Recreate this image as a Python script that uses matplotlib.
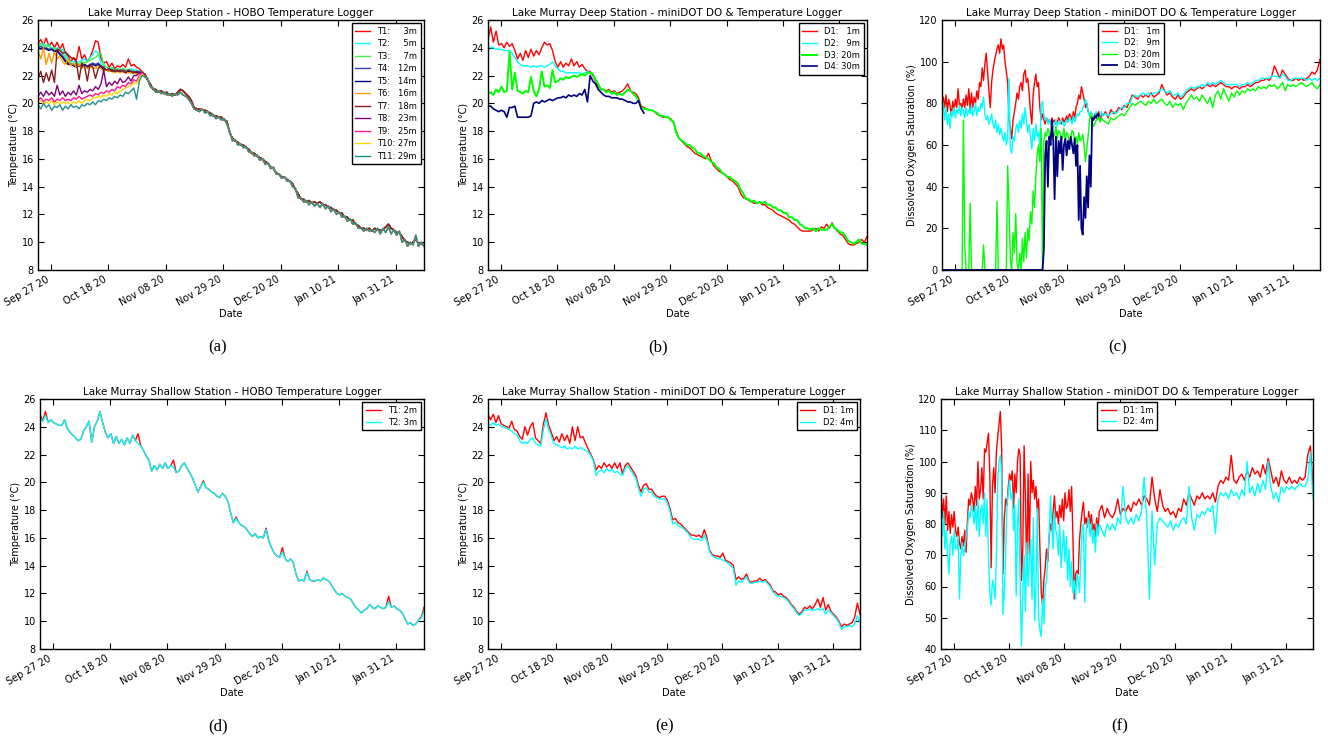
import numpy as np
import matplotlib
matplotlib.use('Agg')
import matplotlib.pyplot as plt
import matplotlib.dates as mdates

plt.rcParams['font.family'] = ['DejaVu Sans']

# ---------------- time grids ----------------
START = np.datetime64('2020-09-22T06:00')
day_grid = START + np.arange(142) * np.timedelta64(1, 'D')          # d0..d141 daily
half_grid = START + np.arange(120) * np.timedelta64(12, 'h')        # d0..d59.5 half-daily
late_grid = START + np.arange(60, 142) * np.timedelta64(1, 'D')     # d60..d141 daily
do_grid = np.concatenate([half_grid, late_grid])

tick_dates = np.array(['2020-09-27', '2020-10-18', '2020-11-08', '2020-11-29',
                       '2020-12-20', '2021-01-10', '2021-01-31'], dtype='datetime64[D]')

# ---------------- (a) Deep station HOBO: stratified part d0..d38 ----------------
hobo_labels = ['T1: \u2007\u20073m', 'T2: \u2007\u20075m', 'T3: \u2007\u20077m',
               'T4: \u200712m', 'T5: \u200714m', 'T6: \u200716m', 'T7: \u200718m',
               'T8: \u200723m', 'T9: \u200725m', 'T10: 27m', 'T11: 29m']
T1_strat = [24.3, 24.6, 24.2, 24.7, 24.1, 24.4, 24.0, 24.4, 23.9, 24.3,
            23.6, 23.4, 23.0, 23.3, 23.1, 24.1, 23.2, 23.5, 23.0, 23.3,
            23.8, 24.5, 24.4, 23.2, 22.9, 23.0, 22.6, 22.9, 22.5, 22.7,
            22.6, 22.8, 22.6, 23.2, 22.7, 22.8, 22.6, 22.5, 22.3]
T2_strat = [24.2, 24.1, 24.3, 24.1, 24.2, 24.0, 23.9, 24.0, 23.8, 23.9,
            23.5, 23.2, 23.0, 23.0, 22.9, 23.0, 23.1, 23.2, 23.0, 23.3,
            23.5, 23.8, 23.6, 22.9, 22.7, 22.6, 22.5, 22.6, 22.4, 22.5,
            22.4, 22.5, 22.4, 22.4, 22.5, 22.4, 22.4, 22.3, 22.2]
T3_strat = [24.2, 24.3, 24.0, 24.2, 24.1, 23.9, 24.0, 23.8, 23.9, 23.6,
            23.3, 23.0, 22.9, 22.8, 22.9, 22.8, 23.0, 22.9, 23.0, 23.1,
            23.2, 23.3, 23.5, 23.6, 22.8, 22.6, 22.5, 22.5, 22.4, 22.5,
            22.4, 22.5, 22.4, 22.4, 22.4, 22.3, 22.3, 22.3, 22.2]
T4_strat = [24.0, 24.1, 23.9, 24.0, 23.9, 23.9, 23.8, 23.8, 23.6, 23.4,
            23.1, 22.9, 22.8, 22.8, 22.7, 22.8, 22.7, 22.8, 22.7, 22.8,
            22.9, 22.8, 22.9, 22.7, 22.5, 22.4, 22.4, 22.4, 22.3, 22.4,
            22.3, 22.4, 22.3, 22.3, 22.3, 22.3, 22.2, 22.3, 22.2]
T5_strat = [24.0, 23.9, 24.0, 23.9, 23.8, 23.9, 23.7, 23.8, 23.5, 23.3,
            23.0, 22.8, 22.8, 22.7, 22.6, 22.7, 22.6, 22.8, 22.6, 22.7,
            22.8, 22.7, 22.8, 22.6, 22.4, 22.4, 22.3, 22.4, 22.3, 22.3,
            22.3, 22.3, 22.2, 22.3, 22.2, 22.2, 22.2, 22.2, 22.2]
T6_strat = [23.8, 23.2, 24.0, 22.8, 23.6, 22.9, 23.7, 23.2, 23.4, 23.0,
            22.8, 23.2, 22.7, 22.9, 22.6, 22.8, 22.5, 22.7, 22.5, 22.6,
            22.6, 22.5, 22.7, 22.5, 22.3, 22.4, 22.3, 22.3, 22.2, 22.3,
            22.2, 22.3, 22.2, 22.2, 22.2, 22.2, 22.1, 22.2, 22.2]
T7_strat = [21.8, 22.3, 21.5, 22.2, 21.6, 22.4, 21.5, 23.9, 23.8, 23.6,
            23.7, 23.5, 23.3, 23.2, 23.0, 21.7, 22.9, 22.7, 21.6, 22.8,
            22.6, 21.8, 22.5, 22.7, 22.6, 22.4, 22.5, 22.3, 22.4, 22.3,
            22.4, 22.3, 22.2, 22.4, 22.3, 22.2, 22.3, 22.2, 22.2]
T8_strat = [20.5, 20.8, 20.5, 20.9, 20.6, 20.8, 20.5, 21.3, 20.6, 20.9,
            20.5, 20.8, 20.6, 20.9, 20.6, 21.3, 20.7, 20.9, 20.8, 21.0,
            20.9, 21.2, 21.0, 21.4, 22.4, 21.2, 21.5, 21.3, 21.6, 21.4,
            21.8, 21.5, 21.6, 21.9, 21.6, 22.0, 22.0, 22.2, 22.2]
T9_strat = [20.2, 20.4, 20.1, 20.3, 20.2, 20.4, 20.1, 20.3, 20.2, 20.4,
            20.2, 20.3, 20.2, 20.4, 20.3, 20.5, 20.3, 20.4, 20.5, 20.6,
            20.5, 20.7, 20.6, 20.8, 20.7, 20.9, 20.8, 21.0, 20.9, 21.2,
            21.1, 21.3, 21.2, 21.5, 21.4, 21.7, 21.6, 22.0, 22.2]
T10_strat = [20.0, 20.2, 19.9, 20.1, 20.0, 20.2, 19.9, 20.1, 20.0, 20.1,
             20.0, 20.1, 19.9, 20.1, 20.0, 20.2, 20.0, 20.2, 20.3, 20.2,
             20.4, 20.4, 20.5, 20.4, 20.6, 20.5, 20.7, 20.6, 20.8, 20.7,
             20.9, 21.0, 21.1, 21.2, 21.3, 21.5, 21.4, 21.8, 22.1]
T11_strat = [19.9, 19.6, 20.0, 19.7, 19.9, 19.5, 19.8, 19.7, 19.9, 19.5,
             19.8, 19.6, 19.9, 19.7, 19.8, 19.6, 19.9, 19.8, 20.0, 19.9,
             20.1, 19.9, 20.2, 20.1, 20.3, 20.2, 20.4, 20.3, 20.5, 20.4,
             20.6, 20.5, 20.8, 20.7, 20.9, 21.1, 20.3, 21.6, 22.0]
# mixed water column at deep station, d39..d141 (upper sensors)
deep_mixed = [22.1, 21.7, 21.4, 21.0, 21.0, 20.8, 20.9, 20.7, 20.8, 20.6,
              20.7, 20.6, 20.8, 21.0, 20.9, 20.7, 20.5, 20.2, 19.7, 19.6,
              19.6, 19.5, 19.5, 19.4, 19.3, 19.1, 19.1, 19.0, 19.0, 18.8,
              18.7, 17.9, 17.5, 17.3, 17.2, 17.0, 17.0, 16.8, 16.7, 16.4,
              16.4, 16.2, 16.1, 16.0, 15.8, 15.7, 15.4, 15.3, 15.0, 14.9,
              14.7, 14.7, 14.5, 14.4, 14.2, 13.8, 13.5, 13.1, 13.1, 12.9,
              13.0, 12.8, 12.9, 12.8, 12.9, 12.7, 12.7, 12.5, 12.5, 12.3,
              12.3, 12.1, 12.1, 11.8, 11.8, 11.6, 11.6, 11.3, 11.2, 11.0,
              11.0, 10.9, 11.0, 10.8, 11.0, 10.9, 10.9, 10.9, 11.1, 11.3,
              11.0, 10.9, 10.7, 10.7, 10.4, 10.1, 10.0, 9.9, 10.0, 10.2,
              9.9, 9.9, 9.8]
# mixed water column at deep station, d39..d141 (lower sensors)
deep_mixed_low = [21.9, 21.8, 21.2, 21.1, 20.8, 20.9, 20.7, 20.8, 20.6, 20.7,
                  20.5, 20.7, 20.6, 20.8, 20.6, 20.5, 20.3, 20.0, 19.6, 19.5,
                  19.4, 19.6, 19.3, 19.4, 19.1, 19.2, 18.9, 19.0, 18.8, 18.9,
                  18.5, 18.0, 17.3, 17.4, 17.0, 17.1, 16.8, 16.9, 16.5, 16.5,
                  16.2, 16.3, 15.9, 16.0, 15.6, 15.7, 15.3, 15.4, 14.9, 14.9,
                  14.6, 14.7, 14.4, 14.4, 14.0, 13.9, 13.2, 13.2, 12.9, 13.0,
                  12.7, 12.9, 12.6, 12.8, 12.5, 12.8, 12.4, 12.6, 12.2, 12.4,
                  12.0, 12.2, 11.8, 11.9, 11.5, 11.7, 11.3, 11.4, 11.0, 11.0,
                  10.8, 11.0, 10.8, 10.9, 10.7, 11.0, 10.6, 11.0, 10.7, 11.1,
                  10.6, 10.9, 10.5, 10.8, 10.0, 10.2, 9.7, 10.0, 9.8, 10.5,
                  9.7, 10.0, 9.7]
hobo_strat = [T1_strat, T2_strat, T3_strat, T4_strat, T5_strat, T6_strat,
              T7_strat, T8_strat, T9_strat, T10_strat, T11_strat]
hobo_mixed = [deep_mixed] * 7 + [deep_mixed_low] * 4
hobo_colors = ['#ff0000', '#00ffff', '#44ee44', '#3c3cb4', '#000080', '#ff9900',
               '#8b1a1a', '#800080', '#ff1493', '#ffd700', '#1f9090']

# ---------------- (b) Deep station miniDOT temperature ----------------
do_labels_deep = ['D1: \u20071m', 'D2: \u20079m', 'D3: 20m', 'D4: 30m']
bD1_strat = [24.6, 25.5, 24.4, 25.2, 24.2, 24.3, 24.0, 24.4, 24.1, 24.3,
             23.8, 23.2, 23.6, 23.1, 23.8, 23.3, 23.9, 23.4, 23.8, 23.5,
             24.0, 24.4, 24.2, 24.3, 23.8, 23.0, 22.6, 23.0, 22.6, 22.9,
             22.7, 23.2, 22.7, 23.0, 22.6, 22.8, 22.5, 22.3, 22.3]
bD1_mixed = [22.0, 21.6, 21.2, 21.0, 21.0, 20.9, 21.0, 20.8, 20.9, 20.7,
             20.8, 20.9, 21.1, 21.4, 20.9, 20.8, 20.7, 20.4, 19.8, 19.7,
             19.6, 19.5, 19.5, 19.4, 19.2, 19.1, 19.0, 19.0, 19.0, 18.9,
             18.6, 18.0, 17.5, 17.3, 17.1, 16.9, 16.8, 16.6, 16.4, 16.3,
             16.2, 16.1, 16.0, 16.4, 15.9, 15.5, 15.3, 15.1, 15.0, 14.9,
             14.7, 14.5, 14.4, 14.2, 14.0, 13.5, 13.2, 13.2, 13.0, 12.9,
             12.8, 12.8, 12.9, 12.7, 12.7, 12.5, 12.4, 12.3, 12.1, 12.0,
             11.9, 11.8, 11.7, 11.6, 11.4, 11.3, 11.1, 10.9, 10.8, 10.8,
             10.8, 10.8, 10.9, 11.0, 10.8, 11.1, 11.0, 11.3, 11.0, 11.4,
             11.0, 10.8, 10.6, 10.5, 10.2, 9.9, 9.8, 9.8, 9.9, 10.0,
             10.2, 10.0, 10.4]
bD2_strat = [24.1, 24.0, 24.0, 23.9, 23.9, 23.9, 23.8, 23.8, 23.8, 23.6,
             23.3, 23.0, 22.8, 22.7, 22.7, 22.7, 22.6, 22.7, 22.6, 22.7,
             22.7, 22.6, 22.7, 22.8, 23.0, 22.7, 22.5, 22.3, 22.3, 22.2,
             22.2, 22.2, 22.2, 22.2, 22.2, 22.1, 22.2, 22.3, 22.2]
bD3_strat = [20.7, 20.8, 20.6, 21.0, 20.8, 21.2, 20.8, 20.9, 23.7, 21.0,
             22.2, 20.9, 20.8, 20.7, 20.9, 20.8, 21.9, 20.9, 20.5, 21.0,
             22.3, 21.2, 21.3, 21.1, 22.4, 21.5, 21.6, 21.8, 21.7, 21.9,
             21.8, 21.9, 22.0, 21.9, 22.0, 22.1, 22.0, 22.2, 22.2]
bD4 = [19.8, 19.8, 19.6, 19.5, 19.4, 19.5, 19.4, 19.0, 19.7, 19.7,
       19.8, 19.0, 19.0, 19.0, 19.0, 19.0, 19.1, 20.0, 20.1, 20.0,
       20.2, 20.1, 20.2, 20.3, 20.2, 20.3, 20.4, 20.4, 20.5, 20.4,
       20.6, 20.5, 20.6, 20.5, 20.7, 20.6, 21.0, 20.1, 22.0, 21.6,
       21.4, 21.0, 20.8, 20.6, 20.5, 20.5, 20.4, 20.4, 20.4, 20.3,
       20.3, 20.2, 20.1, 20.1, 20.0, 20.0, 20.2, 19.6, 19.3]
do_colors = ['#ff0000', '#00ffff', '#00ff00', '#000080']

# ---------------- (c) Deep station DO saturation ----------------
cD1_early = [80, 83, 78, 84, 76, 82, 79, 74, 81, 77,
             82, 78, 87, 79, 80, 77, 82, 78, 84, 79,
             87, 77, 85, 78, 83, 80, 86, 82, 90, 88,
             97, 91, 99, 104, 95, 86, 78, 90, 96, 100,
             103, 106, 108, 104, 111, 106, 108, 100, 95, 90,
             72, 68, 63, 72, 76, 80, 85, 82, 88, 90,
             86, 94, 96, 90, 92, 85, 76, 70, 84, 90,
             94, 88, 90, 78, 72, 75, 72, 70, 73, 71,
             72, 70, 73, 71, 72, 70, 71, 73, 72, 70,
             73, 71, 72, 74, 71, 75, 74, 72, 76, 73,
             78, 80, 84, 82, 88, 85, 82, 78, 80, 76,
             75, 73, 74, 72, 75, 73, 74, 76, 72, 75]
cD1_late = [74, 76, 73, 77, 75, 76, 78, 77, 79, 78,
            81, 84, 83, 82, 84, 83, 84, 83, 85, 83,
            84, 85, 89, 86, 84, 85, 83, 82, 84, 82,
            83, 85, 86, 87, 86, 87, 88, 87, 88, 89,
            88, 89, 88, 89, 90, 89, 88, 88, 87, 88,
            88, 87, 88, 88, 89, 88, 89, 90, 90, 91,
            91, 92, 91, 93, 98, 95, 92, 96, 94, 92,
            91, 91, 92, 91, 92, 91, 92, 93, 95, 94,
            96, 101]
cD2_early = [76, 80, 72, 78, 70, 75, 68, 76, 74, 78,
             73, 77, 75, 79, 74, 78, 76, 73, 78, 74,
             77, 75, 79, 74, 76, 80, 74, 78, 76, 80,
             78, 83, 75, 72, 74, 70, 72, 75, 70, 68,
             72, 66, 70, 65, 68, 64, 62, 66, 60, 64,
             92, 58, 56, 64, 62, 68, 70, 66, 72, 68,
             75, 70, 78, 72, 66, 70, 64, 58, 68, 62,
             70, 64, 66, 60, 78, 81, 74, 72, 73, 70,
             72, 70, 71, 69, 70, 72, 69, 71, 70, 72,
             71, 69, 70, 72, 71, 73, 72, 70, 74, 71,
             73, 75, 74, 76, 76, 78, 79, 82, 80, 76,
             74, 76, 75, 73, 74, 76, 75, 73, 74, 76]
cD2_late = [74, 75, 74, 75, 76, 75, 77, 78, 78, 80,
            80, 83, 84, 83, 84, 85, 84, 85, 84, 85,
            85, 86, 87, 86, 85, 86, 84, 84, 85, 83,
            84, 86, 87, 88, 87, 88, 88, 89, 88, 90,
            89, 90, 89, 90, 91, 90, 89, 89, 89, 89,
            89, 88, 89, 89, 90, 89, 90, 91, 91, 92,
            92, 92, 92, 93, 93, 93, 92, 94, 93, 91,
            91, 92, 92, 92, 92, 92, 91, 92, 91, 92,
            91, 92]
cD3_early = [0, 0, 0, 0, 0, 0, 0, 0, 0, 0,
             0, 0, 0, 0, 0, 0, 72, 12, 0, 0,
             0, 32, 0, 0, 0, 0, 0, 0, 0, 0,
             0, 12, 0, 0, 0, 0, 0, 0, 0, 0,
             0, 33, 0, 0, 0, 0, 0, 0, 0, 50,
             30, 5, 0, 18, 8, 27, 3, 0, 8, 0,
             15, 4, 18, 6, 20, 14, 28, 22, 38, 30,
             45, 55, 60, 52, 68, 0, 62, 66, 64, 68,
             66, 62, 68, 64, 65, 69, 63, 67, 66, 62,
             64, 68, 62, 66, 65, 61, 63, 67, 66, 62,
             64, 60, 66, 62, 63, 65, 60, 52, 58, 64,
             72, 75, 71, 69, 70, 72, 72, 74, 71, 73]
cD3_late = [72, 71, 70, 73, 72, 73, 74, 75, 74, 76,
            78, 80, 79, 80, 81, 80, 79, 81, 80, 82,
            80, 81, 82, 80, 79, 81, 78, 80, 79, 80,
            77, 80, 82, 84, 82, 83, 81, 84, 82, 80,
            83, 78, 84, 86, 82, 87, 84, 81, 85, 83,
            86, 84, 86, 85, 87, 86, 87, 86, 88, 87,
            88, 87, 89, 88, 89, 87, 88, 90, 86, 89,
            88, 89, 88, 89, 90, 89, 88, 89, 90, 88,
            87, 89]
cD4 = [0, 0, 0, 0, 0, 0, 0, 0, 0, 0,
       0, 0, 0, 0, 0, 0, 0, 0, 0, 0,
       0, 0, 0, 0, 0, 0, 0, 0, 0, 0,
       0, 0, 0, 0, 0, 0, 0, 0, 0, 0,
       0, 0, 0, 0, 0, 0, 0, 0, 0, 0,
       0, 0, 0, 0, 0, 0, 0, 0, 0, 0,
       0, 0, 0, 0, 0, 0, 0, 0, 0, 0,
       0, 0, 0, 0, 0, 0,
       10, 55, 62, 40, 64, 60, 72, 62, 34, 64,
       45, 62, 56, 64, 48, 60, 63, 55, 62, 58,
       64, 60, 56, 63, 50, 60, 24, 50, 20, 17,
       35, 25, 45, 30, 55, 40, 73, 72, 74, 73,
       75, 74]

# ---------------- (d) Shallow station HOBO ----------------
hobo_labels_sh = ['T1: 2m', 'T2: 3m']
dT1 = [24.9, 24.4, 25.1, 24.3, 24.5, 24.3, 24.2, 24.1, 24.1, 24.5,
       23.9, 23.6, 23.4, 23.2, 23.0, 23.1, 23.7, 24.0, 24.4, 22.9,
       24.0, 24.4, 25.1, 24.3, 23.6, 23.2, 23.5, 22.8, 23.3, 22.8,
       23.1, 22.7, 23.2, 22.8, 23.4, 23.0, 23.5, 22.6, 22.3, 21.9,
       21.6, 20.8, 21.2, 20.9, 21.3, 21.0, 21.4, 21.0, 21.2, 21.6,
       20.7, 20.8, 21.2, 21.4, 21.0, 20.7, 20.3, 19.8, 19.3, 19.7,
       20.1, 19.6, 19.5, 19.3, 19.2, 19.0, 18.9, 19.2, 19.0, 18.6,
       17.8, 17.1, 17.5, 17.1, 16.9, 16.8, 16.6, 16.3, 16.1, 16.3,
       16.0, 16.1, 16.0, 16.7, 15.8, 15.3, 14.9, 14.7, 14.6, 15.3,
       14.5, 14.3, 14.5, 14.2, 13.4, 12.9, 13.0, 12.9, 13.6, 13.0,
       12.9, 12.9, 13.0, 12.9, 13.1, 13.0, 12.9, 12.6, 12.3, 12.0,
       11.9, 12.0, 11.8, 11.7, 11.6, 11.3, 11.0, 10.8, 10.6, 10.8,
       10.9, 11.2, 11.0, 10.9, 11.1, 11.0, 10.9, 11.0, 11.8, 11.0,
       11.1, 10.9, 10.8, 10.6, 10.2, 9.8, 9.9, 9.7, 9.8, 10.1,
       10.3, 11.0]
dT2 = [24.6, 24.4, 24.8, 24.3, 24.5, 24.3, 24.2, 24.1, 24.1, 24.5,
       23.9, 23.6, 23.4, 23.2, 23.0, 23.1, 23.7, 24.0, 24.4, 22.9,
       24.0, 24.4, 25.1, 24.3, 23.6, 23.2, 23.5, 22.8, 23.3, 22.8,
       23.1, 22.7, 23.2, 22.8, 23.4, 23.0, 22.8, 22.6, 22.3, 21.9,
       21.6, 20.8, 21.2, 20.9, 21.3, 21.0, 21.4, 21.0, 21.2, 21.1,
       20.7, 20.8, 21.2, 21.4, 21.0, 20.7, 20.3, 19.8, 19.3, 19.7,
       20.0, 19.6, 19.5, 19.3, 19.2, 19.0, 18.9, 19.2, 19.0, 18.6,
       17.8, 17.1, 17.4, 17.1, 16.9, 16.8, 16.6, 16.3, 16.1, 16.3,
       16.0, 16.1, 16.0, 16.6, 15.8, 15.3, 14.9, 14.7, 14.6, 15.0,
       14.5, 14.3, 14.5, 14.2, 13.4, 12.9, 13.0, 12.9, 13.5, 13.0,
       12.9, 12.9, 13.0, 12.9, 13.1, 13.0, 12.9, 12.6, 12.3, 12.0,
       11.9, 12.0, 11.8, 11.7, 11.6, 11.3, 11.0, 10.8, 10.6, 10.8,
       10.9, 11.2, 11.0, 10.9, 11.1, 11.0, 10.9, 11.0, 11.4, 11.0,
       11.1, 10.9, 10.8, 10.6, 10.2, 9.8, 9.9, 9.7, 9.8, 10.1,
       10.2, 10.8]

# ---------------- (e) Shallow station miniDOT temperature ----------------
do_labels_sh = ['D1: 1m', 'D2: 4m']
eD1 = [24.9, 24.5, 24.9, 24.3, 24.8, 24.2, 24.1, 24.0, 23.9, 24.4,
       23.8, 23.7, 23.3, 23.1, 24.0, 23.4, 24.0, 24.3, 23.2, 23.0,
       22.8, 24.2, 25.0, 24.1, 23.6, 23.0, 23.3, 22.9, 23.5, 23.0,
       23.4, 22.8, 24.0, 23.0, 24.0, 23.2, 23.3, 22.8, 22.4, 22.0,
       21.6, 20.9, 21.2, 21.0, 21.4, 21.1, 21.3, 21.0, 21.4, 21.0,
       21.4, 20.6, 21.2, 21.4, 21.1, 20.8, 20.5, 19.8, 19.3, 19.8,
       19.9, 19.5, 19.5, 19.2, 19.0, 18.9, 19.0, 19.0, 18.7, 18.1,
       17.3, 17.4, 17.1, 17.0, 16.8, 16.6, 16.4, 16.2, 16.2, 16.1,
       16.2, 16.0, 16.6, 16.0, 15.1, 14.8, 14.7, 14.7, 14.6, 14.9,
       14.4, 14.3, 14.2, 14.0, 13.0, 13.2, 13.0, 13.1, 13.4, 12.9,
       12.8, 12.9, 12.9, 13.1, 12.9, 13.0, 12.8, 12.6, 12.2, 12.1,
       11.9, 12.0, 11.8, 11.7, 11.5, 11.2, 11.0, 10.7, 10.5, 10.7,
       11.0, 10.9, 11.1, 10.9, 11.2, 11.6, 11.0, 11.7, 10.8, 11.2,
       10.7, 10.5, 10.3, 10.0, 9.6, 9.8, 9.7, 9.8, 9.9, 10.3,
       11.3, 10.5]
eD2 = [24.2, 24.1, 24.3, 24.1, 24.2, 24.0, 24.0, 23.9, 23.8, 23.7,
       23.5, 23.4, 23.0, 22.8, 22.9, 22.8, 23.1, 23.2, 22.8, 22.7,
       22.6, 23.8, 24.6, 23.8, 23.3, 22.8, 22.7, 22.6, 22.5, 22.6,
       22.4, 22.5, 22.4, 22.6, 22.4, 22.5, 22.4, 22.3, 22.2, 21.9,
       21.5, 20.5, 20.8, 20.9, 20.7, 21.0, 20.8, 20.9, 20.7, 20.8,
       20.6, 20.5, 21.0, 21.2, 20.9, 20.6, 20.3, 19.6, 19.0, 19.5,
       19.6, 19.3, 19.3, 19.0, 18.9, 18.8, 18.8, 18.8, 18.5, 17.9,
       17.0, 17.1, 16.9, 16.8, 16.7, 16.5, 16.3, 16.0, 15.9, 15.9,
       15.9, 15.8, 16.2, 15.8, 15.0, 14.7, 14.6, 14.5, 14.5, 14.4,
       14.3, 14.2, 14.0, 13.8, 12.6, 12.9, 12.8, 13.0, 13.2, 12.8,
       12.7, 12.8, 12.8, 12.9, 12.8, 12.9, 12.7, 12.5, 12.1, 11.9,
       11.8, 11.8, 11.7, 11.6, 11.4, 11.1, 10.9, 10.6, 10.4, 10.6,
       10.8, 10.8, 10.9, 10.8, 10.8, 10.9, 10.8, 10.9, 10.5, 10.8,
       10.6, 10.4, 10.2, 9.9, 9.4, 9.6, 9.6, 9.7, 9.6, 9.8,
       10.4, 9.9]

# ---------------- (f) Shallow station DO saturation ----------------
fD1_early = [91, 82, 88, 80, 89, 78, 84, 77, 83, 79,
             84, 78, 76, 79, 74, 72, 76, 73, 78, 71,
             81, 88, 86, 90, 88, 84, 92, 86, 100, 88,
             91, 98, 88, 104, 103, 106, 109, 96, 66, 92,
             98, 90, 103, 108, 112, 116, 104, 64, 82, 88,
             86, 92, 96, 94, 97, 85, 96, 90, 100, 104,
             102, 62, 72, 105, 88, 64, 96, 70, 100, 90,
             94, 88, 92, 84, 88, 72, 58, 54, 62, 66,
             72, 68, 76, 80, 78, 84, 89, 82, 84, 80,
             86, 82, 88, 81, 90, 85, 86, 91, 84, 92,
             76, 56, 64, 65, 64, 75, 80, 84, 87, 80,
             82, 79, 84, 80, 83, 78, 80, 76, 82, 78]
fD1_late = [84, 86, 82, 85, 83, 82, 84, 88, 83, 85,
            84, 86, 84, 87, 86, 88, 86, 89, 88, 86,
            95, 88, 84, 91, 86, 84, 85, 83, 84, 82,
            85, 84, 88, 86, 90, 88, 86, 89, 88, 90,
            88, 89, 88, 90, 87, 92, 94, 93, 95, 94,
            102, 94, 93, 95, 96, 94, 97, 95, 98, 96,
            97, 95, 99, 96, 101, 97, 93, 95, 92, 97,
            94, 93, 95, 93, 94, 93, 95, 94, 95, 102,
            105, 92]
fD2_early = [80, 76, 84, 72, 78, 70, 64, 74, 76, 70,
             78, 72, 72, 76, 56, 70, 74, 70, 72, 76,
             78, 84, 82, 86, 84, 80, 86, 78, 88, 76,
             84, 86, 80, 90, 76, 88, 70, 58, 54, 62,
             60, 56, 70, 94, 100, 102, 96, 51, 58, 70,
             86, 90, 94, 88, 90, 78, 86, 57, 80, 88,
             60, 41, 58, 70, 52, 74, 60, 68, 75, 56,
             82, 49, 60, 85, 50, 46, 44, 56, 48, 60,
             62, 70, 76, 89, 80, 72, 84, 78, 76, 70,
             80, 66, 72, 78, 68, 76, 62, 72, 60, 68,
             58, 62, 56, 64, 62, 58, 70, 78, 80, 55,
             78, 80, 82, 76, 80, 74, 78, 71, 80, 76]
fD2_late = [80, 78, 76, 80, 78, 80, 78, 82, 80, 92,
            82, 80, 82, 80, 83, 81, 84, 95, 82, 56,
            84, 67, 80, 82, 81, 80, 79, 81, 78, 80,
            79, 81, 82, 80, 92, 82, 78, 83, 82, 84,
            83, 85, 84, 86, 77, 88, 90, 89, 90, 88,
            91, 89, 90, 88, 91, 89, 100, 90, 92, 89,
            93, 90, 94, 91, 100, 92, 88, 90, 87, 92,
            90, 92, 91, 92, 91, 92, 93, 92, 92, 94,
            103, 88]

titles = ['Lake Murray Deep Station - HOBO Temperature Logger',
          'Lake Murray Deep Station - miniDOT DO & Temperature Logger',
          'Lake Murray Deep Station - miniDOT DO & Temperature Logger',
          'Lake Murray Shallow Station - HOBO Temperature Logger',
          'Lake Murray Shallow Station - miniDOT DO & Temperature Logger',
          'Lake Murray Shallow Station - miniDOT DO & Temperature Logger']
captions = ['(a)', '(b)', '(c)', '(d)', '(e)', '(f)']

# ---------------- figure ----------------
W, H = 1328, 739
fig = plt.figure(figsize=(W / 100, H / 100), dpi=100, facecolor='white')


def pos(l, r, t, b):
    return [l / W, 1 - b / H, (r - l) / W, (b - t) / H]


ax_a = fig.add_axes(pos(38, 424, 20, 270))
ax_b = fig.add_axes(pos(488, 867, 20, 270))
ax_c = fig.add_axes(pos(942, 1320, 20, 270))
ax_d = fig.add_axes(pos(40, 424, 399, 649))
ax_e = fig.add_axes(pos(488, 860, 399, 649))
ax_f = fig.add_axes(pos(941, 1313, 399, 649))

LW = 1.0

# (a)
for vals, mixed, col, lab in zip(hobo_strat, hobo_mixed, hobo_colors, hobo_labels):
    ax_a.plot(day_grid, vals + mixed, color=col, lw=LW, label=lab)

# (b)
ax_b.plot(day_grid, bD1_strat + bD1_mixed, color=do_colors[0], lw=LW, label=do_labels_deep[0])
ax_b.plot(day_grid, bD2_strat + deep_mixed, color=do_colors[1], lw=LW, label=do_labels_deep[1])
ax_b.plot(day_grid, bD3_strat + deep_mixed, color=do_colors[2], lw=1.4, label=do_labels_deep[2])
ax_b.plot(day_grid[:len(bD4)], bD4, color=do_colors[3], lw=1.2, label=do_labels_deep[3])

# (c)
ax_c.plot(do_grid, cD1_early + cD1_late, color=do_colors[0], lw=LW, label=do_labels_deep[0])
ax_c.plot(do_grid, cD2_early + cD2_late, color=do_colors[1], lw=LW, label=do_labels_deep[1])
ax_c.plot(do_grid, cD3_early + cD3_late, color=do_colors[2], lw=LW, label=do_labels_deep[2])
ax_c.plot(half_grid[:len(cD4)], cD4, color=do_colors[3], lw=1.3, label=do_labels_deep[3])

# (d)
ax_d.plot(day_grid, dT1, color='#ff0000', lw=LW, label=hobo_labels_sh[0])
ax_d.plot(day_grid, dT2, color='#00ffff', lw=LW, label=hobo_labels_sh[1])

# (e)
ax_e.plot(day_grid, eD1, color='#ff0000', lw=LW, label=do_labels_sh[0])
ax_e.plot(day_grid, eD2, color='#00ffff', lw=LW, label=do_labels_sh[1])

# (f)
ax_f.plot(do_grid, fD1_early + fD1_late, color='#ff0000', lw=LW, label=do_labels_sh[0])
ax_f.plot(do_grid, fD2_early + fD2_late, color='#00ffff', lw=LW, label=do_labels_sh[1])

temp_ticks = np.arange(8, 27, 2)
specs = [
    (ax_a, (8, 26), temp_ticks, 'Temperature (\u00b0C)', 'upper right', 0.42),
    (ax_b, (8, 26), temp_ticks, 'Temperature (\u00b0C)', 'upper right', 0.35),
    (ax_c, (0, 120), np.arange(0, 121, 20), 'Dissolved Oxygen Saturation (%)', 'upper center', 0.3),
    (ax_d, (8, 26), temp_ticks, 'Temperature (\u00b0C)', 'upper right', 0.35),
    (ax_e, (8, 26), temp_ticks, 'Temperature (\u00b0C)', 'upper right', 0.35),
    (ax_f, (40, 120), np.arange(40, 121, 10), 'Dissolved Oxygen Saturation (%)', 'upper center', 0.3),
]

for (ax, ylim, yt, ylab, loc, lsp), title in zip(specs, titles):
    ax.set_xlim(day_grid[0], day_grid[-1])
    ax.set_ylim(*ylim)
    ax.set_yticks(yt)
    ax.set_xticks(tick_dates)
    ax.xaxis.set_major_formatter(mdates.DateFormatter('%b %d %y'))
    ax.tick_params(direction='in', top=True, right=True, length=4, width=0.8,
                   labelsize=7, pad=3, colors='black')
    for lbl in ax.get_xticklabels():
        lbl.set_rotation(30)
        lbl.set_ha('right')
    ax.set_xlabel('Date', fontsize=7, labelpad=1)
    ax.set_ylabel(ylab, fontsize=7, labelpad=2)
    ax.set_title(title, fontsize=7.5, pad=3)
    for sp in ax.spines.values():
        sp.set_linewidth(1.0)
        sp.set_color('black')
    leg = ax.legend(loc=loc, fontsize=6, labelspacing=lsp, handlelength=1.8,
                    handletextpad=0.9, borderpad=0.4, borderaxespad=0.4,
                    fancybox=False, edgecolor='black', framealpha=1)
    leg.get_frame().set_linewidth(1.0)

cap_pos = [(218, 347), (658, 347), (1118, 347), (218, 726), (665, 726), (1120, 726)]
for (cx, cy), cap in zip(cap_pos, captions):
    fig.text(cx / W, 1 - cy / H, cap, ha='center', va='center', fontsize=12,
             family=['Liberation Serif', 'DejaVu Serif'])

fig.savefig('out.png', dpi=100, facecolor='white')
